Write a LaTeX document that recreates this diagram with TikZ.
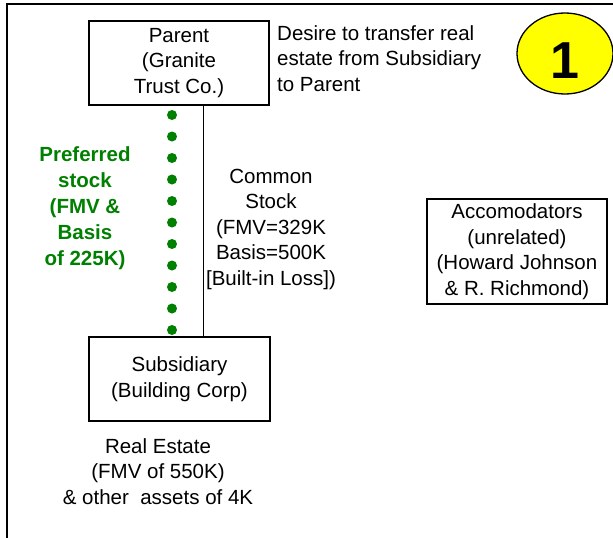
\documentclass[tikz,border=0pt]{standalone}
\usepackage{fontspec}
\setmainfont{Liberation Sans}
\usetikzlibrary{shapes.geometric}
\definecolor{pgreen}{RGB}{0,128,0}
\definecolor{byellow}{RGB}{255,255,0}
\begin{document}
\begin{tikzpicture}[x=1pt,y=-1pt,
  every node/.style={font=\fontsize{20.5}{25.5}\selectfont, inner sep=0pt, align=center},
  box/.style={draw=black, line width=1.3pt, rectangle},
  lbl/.style={text=black},
  prefl/.style={text=pgreen, font=\fontsize{20.5}{26}\selectfont\bfseries},
  gdot/.style={fill=pgreen},
  link/.style={draw=black, line width=1pt}]
\useasboundingbox (0,0) rectangle (613,538);
% frame
\draw[line width=2pt] (7,540) -- (7,4) -- (615,4);
% boxes
\node[box, minimum width=180, minimum height=84] (parent) at (179,63) {Parent\\(Granite\\Trust Co.)};
\node[box, minimum width=181, minimum height=84] (sub) at (179.5,379) {Subsidiary\\(Building Corp)};
\node[box, minimum width=180, minimum height=105] (acc) at (517,251.5) {Accomodators\\(unrelated)\\(Howard Johnson\\\& R. Richmond)};
% badge
\node[draw=black, line width=1.3pt, fill=byellow, ellipse, minimum width=96, minimum height=81] (badge) at (565,53.5) {};
\node[font=\fontsize{52}{52}\selectfont\bfseries] (num) at (565,60.5) {1};
% connectors
\draw[link] ([xshift=24]parent.south) -- ([xshift=23.5]sub.north);
\foreach \i in {0,...,10} \fill[gdot] (172,115+21.5*\i) circle (5);
% labels
\node[anchor=north west, align=left] (desire) at (277,25) {Desire to transfer real\\estate from Subsidiary\\to Parent};
\node[prefl] (pref) at (85,208) {Preferred\\stock\\(FMV \&\\Basis\\of 225K)};
\node[lbl] (common) at (271,229) {Common\\Stock\\(FMV=329K\\Basis=500K\\{[}Built-in Loss{]})};
\node[lbl] (re) at (158,471.5) {Real Estate\\(FMV of 550K)\\\& other\ \ assets of 4K};
\end{tikzpicture}
\end{document}
